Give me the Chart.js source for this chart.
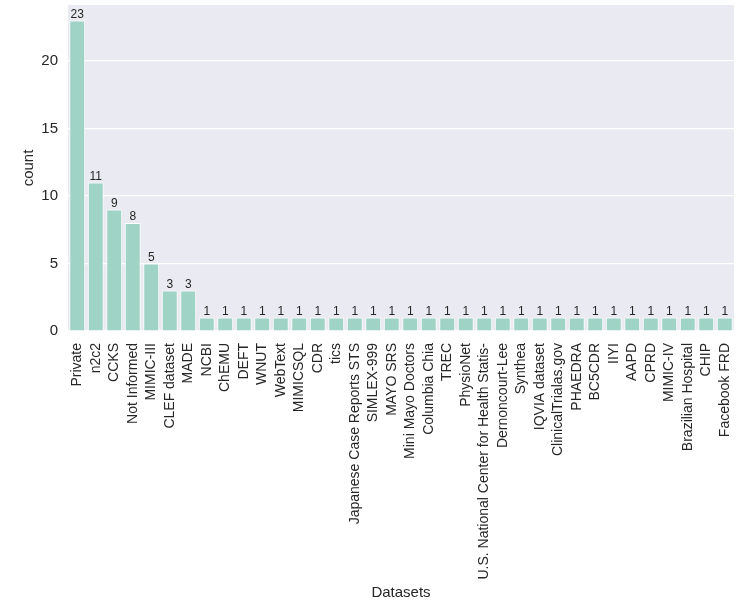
<!DOCTYPE html>
<html>
<head>
<meta charset="utf-8">
<script src="https://cdn.jsdelivr.net/npm/chart.js@4.4.1/dist/chart.umd.min.js"></script>
<style>
  html, body { margin: 0; padding: 0; background: #ffffff; }
  #wrap { width: 751px; height: 606px; position: relative; }
</style>
</head>
<body>
<div id="wrap"><canvas id="datasetChart"></canvas></div>
<script>
// Dataset usage counts
const datasetNames = [
    'Private', 'n2c2', 'CCKS', 'Not Informed', 'MIMIC-III', 'CLEF dataset', 'MADE',
    'NCBI', 'ChEMU', 'DEFT', 'WNUT', 'WebText', 'MIMICSQL', 'CDR', 'tics',
    'Japanese Case Reports STS', 'SIMLEX-999', 'MAYO SRS', 'Mini Mayo Doctors',
    'Columbia Chia', 'TREC', 'PhysioNet', 'U.S. National Center for Health Statis-',
    'Dernoncourt-Lee', 'Synthea', 'IQVIA dataset', 'ClinicalTrialas.gov', 'PHAEDRA',
    'BC5CDR', 'IIYI', 'AAPD', 'CPRD', 'MIMIC-IV', 'Brazilian Hospital', 'CHIP',
    'Facebook FRD'
];
const datasetCounts = [
    23, 11, 9, 8, 5, 3, 3,
    1, 1, 1, 1, 1, 1, 1, 1,
    1, 1, 1, 1,
    1, 1, 1, 1,
    1, 1, 1, 1, 1,
    1, 1, 1, 1, 1, 1, 1,
    1
];
const yTickValues = [0, 5, 10, 15, 20];

const textColor = '#262626';
const fontFamily = '"Liberation Sans", Arial, sans-serif';

// grey panel behind the plot area
const panelBackground = {
    id: 'panelBackground',
    beforeDraw(chart) {
        const { ctx, chartArea } = chart;
        ctx.save();
        ctx.fillStyle = '#eaeaf2';
        ctx.fillRect(chartArea.left, chartArea.top, chartArea.right - chartArea.left, chartArea.bottom - chartArea.top);
        ctx.restore();
    }
};

// count written above each bar
const barLabels = {
    id: 'barLabels',
    afterDatasetsDraw(chart) {
        const { ctx } = chart;
        const meta = chart.getDatasetMeta(0);
        ctx.save();
        ctx.fillStyle = textColor;
        ctx.font = '12px ' + fontFamily;
        ctx.textAlign = 'center';
        ctx.textBaseline = 'bottom';
        meta.data.forEach((bar, i) => {
            ctx.fillText(String(datasetCounts[i]), bar.x, bar.y);
        });
        ctx.restore();
    }
};

const ctx = document.getElementById('datasetChart').getContext('2d');
new Chart(ctx, {
    type: 'bar',
    data: {
        labels: datasetNames,
        datasets: [{
            data: datasetCounts,
            backgroundColor: '#9fd3c6',
            borderColor: '#ffffff',
            borderWidth: 1,
            categoryPercentage: 0.86,
            barPercentage: 1.0
        }]
    },
    options: {
        responsive: true,
        maintainAspectRatio: false,
        animation: false,
        layout: { padding: { top: 5, right: 17, left: 0, bottom: 0 } },
        plugins: {
            legend: { display: false },
            tooltip: { enabled: false }
        },
        scales: {
            x: {
                grid: { display: false },
                border: { display: false },
                ticks: {
                    color: textColor,
                    font: { family: fontFamily, size: 14 },
                    minRotation: 90,
                    maxRotation: 90,
                    autoSkip: false,
                    padding: 4
                },
                title: {
                    display: true,
                    text: 'Datasets',
                    color: textColor,
                    font: { family: fontFamily, size: 15 },
                    padding: { top: 0, bottom: 4 }
                },
                afterFit(scale) {
                    scale.height = 275;
                    scale.paddingLeft = 0;
                    scale.paddingRight = 0;
                }
            },
            y: {
                min: 0,
                max: 24.15,
                grid: { color: '#ffffff', lineWidth: 1.2, drawTicks: false },
                border: { display: false },
                ticks: {
                    color: textColor,
                    font: { family: fontFamily, size: 15 },
                    padding: 10
                },
                afterBuildTicks(scale) {
                    scale.ticks = yTickValues.map(v => ({ value: v }));
                },
                title: {
                    display: true,
                    text: 'count',
                    color: textColor,
                    font: { family: fontFamily, size: 15 },
                    padding: { top: 20, bottom: 0 }
                },
                afterFit(scale) {
                    scale.width = 68;
                    scale.paddingTop = 0;
                    scale.paddingBottom = 0;
                }
            }
        }
    },
    plugins: [panelBackground, barLabels]
});
</script>
</body>
</html>
